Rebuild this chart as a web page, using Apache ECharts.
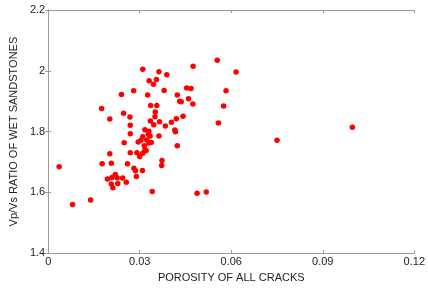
<!DOCTYPE html>
<html>
<head>
<meta charset="utf-8">
<script src="https://cdn.jsdelivr.net/npm/echarts@6/dist/echarts.min.js"></script>
<style>
    html, body { margin: 0; padding: 0; background: #fff; }
    #chart { width: 428px; height: 288px; }
</style>
</head>
<body>
<div id="chart"></div>
<script>
// porosity of all cracks (x) and Vp/Vs ratio (y)
const porosity = [
    0.0036, 0.0080, 0.0139, 0.0175, 0.0177, 0.0202, 0.0202, 0.0207, 0.0194, 0.0209,
    0.0207, 0.0212, 0.0220, 0.0226, 0.0228, 0.0240, 0.0244, 0.0247, 0.0249, 0.0256,
    0.0260, 0.0268, 0.0269, 0.0269, 0.0269, 0.0280, 0.0281, 0.0286, 0.0289, 0.0291,
    0.0295, 0.0300, 0.0304, 0.0309, 0.0310, 0.0310, 0.0310, 0.0317, 0.0315, 0.0317,
    0.0321, 0.0323, 0.0326, 0.0328, 0.0330, 0.0330, 0.0331, 0.0334, 0.0336, 0.0335,
    0.0338, 0.0341, 0.0345, 0.0346, 0.0350, 0.0351, 0.0355, 0.0356, 0.0363, 0.0363,
    0.0365, 0.0373, 0.0372, 0.0380, 0.0384, 0.0389, 0.0404, 0.0415, 0.0417, 0.0420,
    0.0423, 0.0423, 0.0431, 0.0436, 0.0442, 0.0454, 0.0460, 0.0468, 0.0474, 0.0475,
    0.0488, 0.0518, 0.0554, 0.0558, 0.0575, 0.0583, 0.0616, 0.0750, 0.0997
]
const vpvs = [
    1.684, 1.560, 1.575, 1.876, 1.694, 1.841, 1.727, 1.696, 1.644, 1.649,
    1.627, 1.615, 1.659, 1.648, 1.629, 1.922, 1.647, 1.860, 1.763, 1.633,
    1.694, 1.848, 1.821, 1.793, 1.730, 1.934, 1.679, 1.671, 1.652, 1.730,
    1.766, 1.718, 1.771, 1.672, 1.729, 2.005, 1.783, 1.806, 1.753, 1.740,
    1.738, 1.772, 1.920, 1.791, 1.801, 1.762, 1.967, 1.785, 1.886, 1.835,
    1.764, 1.603, 1.956, 1.822, 1.849, 1.864, 1.971, 1.886, 1.997, 1.785,
    1.832, 1.705, 1.688, 1.935, 1.818, 1.987, 1.831, 1.805, 1.799, 1.842,
    1.920, 1.753, 1.900, 1.898, 1.850, 1.943, 1.908, 1.942, 1.891, 2.015,
    1.597, 1.601, 2.035, 1.828, 1.884, 1.934, 1.996, 1.771, 1.814
]
const xTicks = ['0', '0.03', '0.06', '0.09', '0.12']
const yTicks = ['1.4', '1.6', '1.8', '2', '2.2']

const font = 'Liberation Sans, Arial, sans-serif'
const axisColor = '#999999'

const chart = echarts.init(document.getElementById('chart'))

// 坐标轴公共样式（MATLAB 风格：刻度朝内，四周边框）
const baseAxis = {
    axisLine: { show: true, lineStyle: { color: axisColor, width: 1 } },
    axisTick: { show: true, inside: true, length: 3, lineStyle: { color: axisColor } },
    splitLine: { show: false }
}

chart.setOption({
    animation: false,
    grid: { left: 45, right: 11, top: 10, bottom: 29, containLabel: false },
    xAxis: [
        {
            ...baseAxis,
            type: 'value',
            min: 0, max: 0.12, interval: 0.03,
            position: 'bottom',
            name: 'POROSITY OF ALL CRACKS',
            nameLocation: 'middle',
            nameGap: 13,
            nameTextStyle: { color: '#222', fontSize: 11, fontFamily: font },
            axisLabel: {
                color: '#222', fontSize: 11, fontFamily: font, margin: 3,
                formatter: (v) => xTicks[Math.round(v / 0.03)]
            }
        },
        {
            ...baseAxis,
            type: 'value',
            min: 0, max: 0.12, interval: 0.03,
            position: 'top',
            axisLabel: { show: false }
        }
    ],
    yAxis: [
        {
            ...baseAxis,
            type: 'value',
            min: 1.4, max: 2.2, interval: 0.2,
            position: 'left',
            name: 'Vp/Vs RATIO OF WET SANDSTONES',
            nameLocation: 'middle',
            nameGap: 23,
            nameTextStyle: { color: '#222', fontSize: 11, fontFamily: font },
            axisLabel: {
                color: '#222', fontSize: 11, fontFamily: font, margin: 3,
                formatter: (v) => yTicks[Math.round((v - 1.4) / 0.2)]
            }
        },
        {
            ...baseAxis,
            type: 'value',
            min: 1.4, max: 2.2, interval: 0.2,
            position: 'right',
            axisLabel: { show: false }
        }
    ],
    series: [
        {
            type: 'scatter',
            symbol: 'circle',
            symbolSize: 5.5,
            itemStyle: { color: '#ff0000', opacity: 1 },
            data: porosity.map((x, i) => [x, vpvs[i]])
        }
    ]
})
</script>
</body>
</html>
